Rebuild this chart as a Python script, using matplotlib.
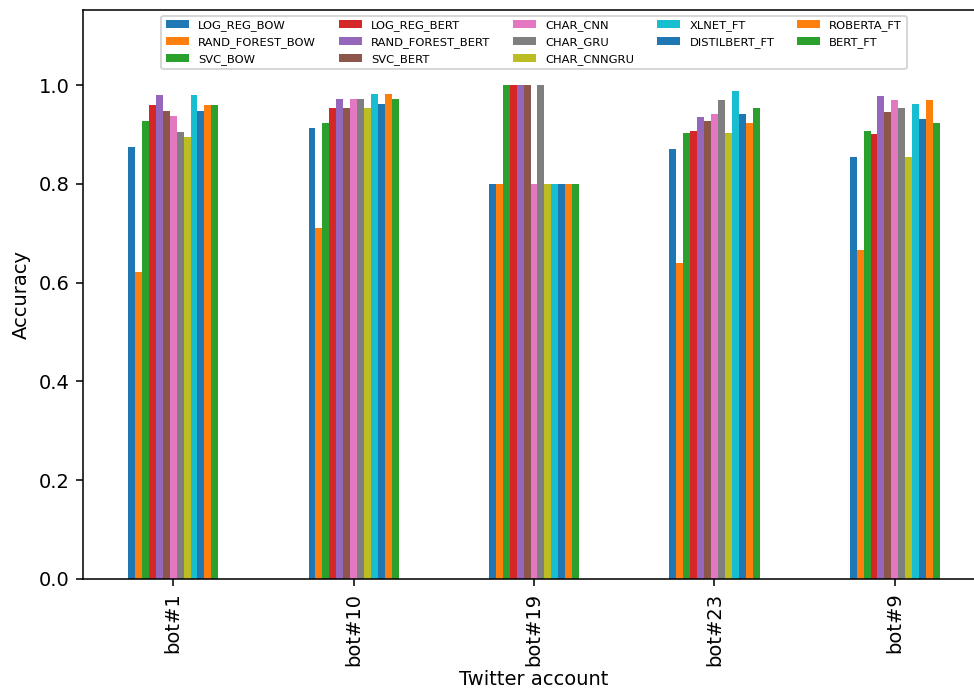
import matplotlib
matplotlib.use('Agg')
import matplotlib.pyplot as plt
import pandas as pd

accounts = ['bot#1', 'bot#10', 'bot#19', 'bot#23', 'bot#9']

models = ['LOG_REG_BOW', 'RAND_FOREST_BOW', 'SVC_BOW',
          'LOG_REG_BERT', 'RAND_FOREST_BERT', 'SVC_BERT',
          'CHAR_CNN', 'CHAR_GRU', 'CHAR_CNNGRU',
          'XLNET_FT', 'DISTILBERT_FT', 'ROBERTA_FT', 'BERT_FT']

log_reg_bow = [0.874, 0.914, 0.8, 0.870, 0.854]
rand_forest_bow = [0.622, 0.710, 0.8, 0.639, 0.667]
svc_bow = [0.927, 0.923, 1.0, 0.902, 0.907]
log_reg_bert = [0.960, 0.953, 1.0, 0.908, 0.900]
rand_forest_bert = [0.980, 0.972, 1.0, 0.935, 0.978]
svc_bert = [0.948, 0.953, 1.0, 0.928, 0.946]
char_cnn = [0.938, 0.972, 0.8, 0.942, 0.970]
char_gru = [0.906, 0.972, 1.0, 0.969, 0.954]
char_cnngru = [0.895, 0.953, 0.8, 0.902, 0.854]
xlnet_ft = [0.980, 0.981, 0.8, 0.988, 0.962]
distilbert_ft = [0.948, 0.962, 0.8, 0.942, 0.931]
roberta_ft = [0.960, 0.981, 0.8, 0.923, 0.970]
bert_ft = [0.960, 0.972, 0.8, 0.954, 0.923]

series = [log_reg_bow, rand_forest_bow, svc_bow,
          log_reg_bert, rand_forest_bert, svc_bert,
          char_cnn, char_gru, char_cnngru,
          xlnet_ft, distilbert_ft, roberta_ft, bert_ft]

df = pd.DataFrame(dict(zip(models, series)), index=accounts)

dpi = 140
fig = plt.figure(figsize=(974 / dpi, 692 / dpi), dpi=dpi)
# axes run a little past the right edge, as in the reference (cropped)
ax = fig.add_axes([83 / 974, 1 - 579 / 692, 902 / 974, 569 / 692])
df.plot(kind='bar', ax=ax, legend=False)
ax.set_ylim(0, 1.152)
ax.set_xlabel('Twitter account', labelpad=2)
ax.set_ylabel('Accuracy')
ax.legend(loc='upper center', ncol=5, fontsize=5.9)

plt.savefig('out.png', dpi=dpi)
plt.close()
